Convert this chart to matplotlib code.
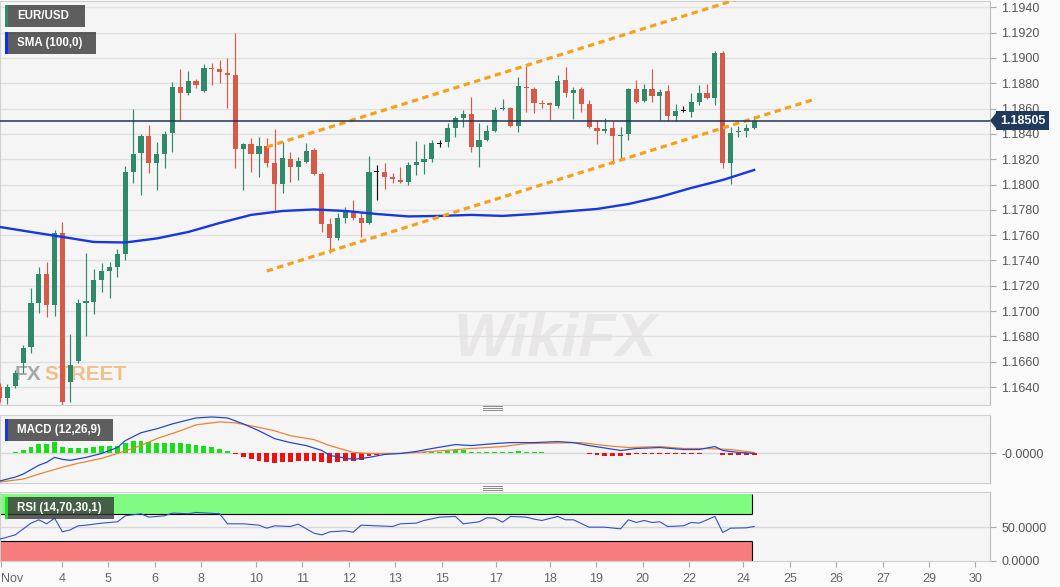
import numpy as np
import matplotlib.pyplot as plt
from matplotlib.patches import Rectangle, Polygon
from matplotlib.lines import Line2D
from matplotlib.transforms import blended_transform_factory

plt.rcParams['font.family'] = ['Liberation Sans', 'DejaVu Sans']

# EUR/USD 4h candles (Nov 3 -> Nov 24)
opens = [1.16401, 1.16314, 1.16409, 1.16590, 1.16717, 1.17064, 1.17293, 1.17049, 1.17617, 1.16440,
         1.16606, 1.17064, 1.17072, 1.17246, 1.17317, 1.17349, 1.17452, 1.18099, 1.18249, 1.18384,
         1.18170, 1.18241, 1.18407, 1.18771, 1.18723, 1.18818, 1.18739, 1.18921, 1.18913, 1.18881,
         1.18866, 1.18281, 1.18320, 1.18241, 1.18305, 1.18170, 1.18004, 1.18202, 1.18139, 1.18178,
         1.18273, 1.18083, 1.17688, 1.17578, 1.17736, 1.17783, 1.17736, 1.17696, 1.18099, 1.18099,
         1.18060, 1.18036, 1.18020, 1.18155, 1.18178, 1.18202, 1.18320, 1.18336, 1.18447, 1.18526,
         1.18557, 1.18297, 1.18352, 1.18423, 1.18597, 1.18605, 1.18463, 1.18771, 1.18755, 1.18645,
         1.18645, 1.18621, 1.18826, 1.18723, 1.18755, 1.18636, 1.18447, 1.18423, 1.18447, 1.18384,
         1.18399, 1.18755, 1.18660, 1.18755, 1.18700, 1.18739, 1.18542, 1.18581, 1.18573, 1.18652,
         1.18723, 1.18684, 1.19039, 1.18170, 1.18415, 1.18423, 1.18447]
highs = [1.16432, 1.16424, 1.16535, 1.16733, 1.17183, 1.17349, 1.17388, 1.17641, 1.17704, 1.16819,
         1.17096, 1.17459, 1.17333, 1.17380, 1.17388, 1.17491, 1.18147, 1.18597, 1.18399, 1.18471,
         1.18336, 1.18423, 1.18810, 1.18913, 1.18897, 1.18834, 1.18952, 1.18960, 1.18984, 1.18999,
         1.19197, 1.18328, 1.18368, 1.18376, 1.18368, 1.18439, 1.18336, 1.18257, 1.18218, 1.18328,
         1.18289, 1.18099, 1.17736, 1.17775, 1.17823, 1.17878, 1.17783, 1.18226, 1.18155, 1.18170,
         1.18091, 1.18139, 1.18178, 1.18344, 1.18320, 1.18352, 1.18352, 1.18486, 1.18542, 1.18589,
         1.18692, 1.18486, 1.18471, 1.18613, 1.18676, 1.18613, 1.18850, 1.18937, 1.18771, 1.18668,
         1.18652, 1.18866, 1.18929, 1.18771, 1.18771, 1.18668, 1.18510, 1.18526, 1.18502, 1.18455,
         1.18763, 1.18826, 1.18794, 1.18913, 1.18755, 1.18787, 1.18636, 1.18621, 1.18723, 1.18787,
         1.18794, 1.19055, 1.19055, 1.18455, 1.18463, 1.18478, 1.18542]
lows = [1.16282, 1.16263, 1.16393, 1.16511, 1.16669, 1.16985, 1.16954, 1.16962, 1.16030, 1.16282,
        1.16590, 1.16804, 1.16977, 1.17151, 1.17104, 1.17270, 1.17404, 1.18012, 1.17918, 1.18091,
        1.17957, 1.18131, 1.18257, 1.18510, 1.18708, 1.18763, 1.18731, 1.18787, 1.18802, 1.18605,
        1.18131, 1.17957, 1.18099, 1.18060, 1.18139, 1.17799, 1.17933, 1.18020, 1.18036, 1.18170,
        1.18076, 1.17625, 1.17459, 1.17562, 1.17696, 1.17720, 1.17586, 1.17688, 1.17878, 1.17965,
        1.18012, 1.18012, 1.17997, 1.18076, 1.18083, 1.18178, 1.18297, 1.18297, 1.18376, 1.18455,
        1.18257, 1.18139, 1.18344, 1.18415, 1.18589, 1.18455, 1.18415, 1.18573, 1.18565, 1.18605,
        1.18510, 1.18605, 1.18692, 1.18518, 1.18573, 1.18447, 1.18320, 1.18407, 1.18162, 1.18194,
        1.18352, 1.18645, 1.18652, 1.18652, 1.18510, 1.18502, 1.18502, 1.18573, 1.18534, 1.18629,
        1.18676, 1.18629, 1.18131, 1.18004, 1.18376, 1.18376, 1.18439]
closes = [1.16314, 1.16401, 1.16511, 1.16709, 1.17064, 1.17293, 1.17049, 1.17617, 1.16282, 1.16575,
          1.17064, 1.17080, 1.17246, 1.17317, 1.17349, 1.17452, 1.18099, 1.18241, 1.18384, 1.18170,
          1.18241, 1.18399, 1.18771, 1.18723, 1.18818, 1.18787, 1.18921, 1.18913, 1.18889, 1.18866,
          1.18281, 1.18320, 1.18241, 1.18305, 1.18170, 1.18004, 1.18210, 1.18139, 1.18186, 1.18265,
          1.18083, 1.17688, 1.17578, 1.17736, 1.17783, 1.17736, 1.17696, 1.18099, 1.18099, 1.18060,
          1.18044, 1.18020, 1.18155, 1.18178, 1.18202, 1.18328, 1.18320, 1.18447, 1.18526, 1.18557,
          1.18297, 1.18352, 1.18423, 1.18589, 1.18605, 1.18463, 1.18779, 1.18763, 1.18645, 1.18636,
          1.18629, 1.18818, 1.18723, 1.18747, 1.18636, 1.18455, 1.18423, 1.18439, 1.18384, 1.18392,
          1.18755, 1.18652, 1.18755, 1.18700, 1.18731, 1.18542, 1.18581, 1.18581, 1.18652, 1.18723,
          1.18684, 1.19039, 1.18170, 1.18407, 1.18423, 1.18447, 1.18505]

sma_idx = [0, 4, 8, 12, 16, 20, 24, 28, 32, 36, 40, 44, 48, 52, 56, 60, 64, 68, 72, 76, 80, 84, 88, 92, 96]
sma_vals = [1.17665, 1.17625, 1.17586, 1.17546, 1.17542, 1.17574, 1.17625, 1.17696, 1.17760, 1.17791,
            1.17803, 1.17791, 1.17767, 1.17748, 1.17752, 1.17760, 1.17752, 1.17767, 1.17787, 1.17807,
            1.17846, 1.17902, 1.17973, 1.18036, 1.18115]

upper_idx, upper_px = [34, 98], [1.18297, 1.19545]
lower_idx, lower_px = [34, 103.8], [1.17317, 1.18676]
last_price = 1.18505
price_ticks = [1.1640, 1.1660, 1.1680, 1.1700, 1.1720, 1.1740, 1.1760, 1.1780,
               1.1800, 1.1820, 1.1840, 1.1860, 1.1880, 1.1900, 1.1920, 1.1940]

# MACD (12,26,9), in pips
macd_idx = [0, 2, 3, 5, 6, 7, 8, 9, 11, 13, 15, 16, 18, 20, 22, 24, 25, 27, 29, 31, 33, 35, 37, 39, 41,
            42, 45, 47, 49, 51, 53, 55, 58, 60, 63, 65, 68, 71, 73, 75, 79, 81, 84, 87, 89, 91, 92, 94, 96]
macd_vals = [-28, -24, -21, -12, -9, -4, -6, -7, -4, 0, 6, 13, 21, 25, 30, 34, 36, 37, 36, 30, 23, 15, 11, 8, 3,
             -2, -6, -4, -1, 0, 2, 5, 9, 8, 10, 11, 11, 12, 11, 8, 3, 5, 6, 4, 4, 7, 3, 1, 0]
sig_idx = [0, 3, 5, 8, 10, 13, 15, 18, 20, 23, 25, 28, 30, 32, 35, 37, 40, 42, 45, 47, 51, 55, 60, 64, 67,
           74, 77, 80, 84, 87, 90, 93, 96]
sig_vals = [-29, -26, -21, -14, -10, -5, 0, 8, 15, 23, 29, 32, 31, 28, 23, 18, 14, 8, 1, 0, 0, 2, 5, 7, 10,
            11, 8, 6, 7, 5, 5, 4, 1]
hist_vals = [0.5, 0.7, 1.0, 3.3, 6.7, 9.3, 9.3, 12, 6.7, 5.3, 6, 6, 6.7, 7.3, 7.3, 8, 11, 12.7, 12.7, 11.7,
             11, 11, 11, 10.3, 10, 8.7, 8, 6.7, 4.3, 2.7, -0.5, -4, -6, -7.3, -8.3, -9.3, -8.7, -8.3, -7.7, -7.3,
             -7.7, -8.7, -10, -8.7, -7.7, -7.3, -6.7, -2.7, -1.7, -1, -0.5, -0.3, 0.5, 1, 1, 1, 1.7, 2.7, 3.3, 3.3,
             1.7, 1, 1.7, 1.7, 1, 1.7, 2.7, 1.5, 1, 1, 0.7, 0.7, 0.7, 0.5, 0.3, -1, -2, -2.5, -3, -2.5,
             -1.5, -0.7, -0.5, -0.3, -0.3, -0.5, -0.5, -0.5, -0.3, -0.3, 0.5, 0.7, -1.5, -2, -2, -2, -2]

# RSI (14,70,30,1)
rsi_idx = [0, 2, 4, 5, 6, 7, 8, 9, 10, 11, 13, 15, 16, 18, 19, 21, 22, 24, 25, 28, 29, 31, 33, 34, 35,
           37, 38, 40, 41, 42, 44, 45, 46, 48, 50, 51, 53, 54, 56, 58, 59, 61, 62, 63, 64, 65, 67, 68, 69,
           71, 72, 73, 75, 77, 79, 80, 81, 82, 83, 84, 85, 87, 88, 89, 91, 92, 93, 95, 96]
rsi_vals = [32, 38.5, 56, 61, 55, 63.5, 43, 46, 52, 53, 56, 58, 67, 70, 65, 67, 71, 70, 72, 70, 55, 55, 53,
            48.5, 52, 51, 54.5, 41, 38.5, 43, 44.5, 42.5, 53, 52, 51, 55, 56, 60, 65, 66, 55, 58, 64, 63.5,
            57.5, 66, 65, 62, 60, 66, 61, 61, 50, 50, 47.5, 61, 57, 60, 57, 58, 51, 52, 57, 56, 66, 42, 48.5,
            49, 51]

day_ticks = [0.19, 7.95, 13.8, 19.8, 25.6, 32.6, 38.5, 44.5, 50.3, 56.3, 63.2, 70.0, 75.9, 81.8, 87.7,
             94.6, 100.6, 106.4, 112.4, 118.3, 124.1]
day_labels = ['Nov', '4', '5', '6', '8', '10', '11', '12', '13', '15', '17', '18', '19', '20', '22',
              '24', '25', '26', '27', '29', '30']

W, H = 1060, 587
GREEN, RED = '#2f8a6b', '#d55a48'
BG = '#f5f5f5'
XL = (0.06, 126.0)


def px_rect(x0, y0, x1, y1):
    return [x0 / W, 1 - y1 / H, (x1 - x0) / W, (y1 - y0) / H]


def tag(fig, x, y, w, h, text, accent):
    fig.add_artist(Rectangle((x / W, 1 - (y + h) / H), w / W, h / H, transform=fig.transFigure,
                             fc='#333333', alpha=0.78, ec='none', zorder=10))
    fig.add_artist(Rectangle((x / W, 1 - (y + h) / H), 3 / W, h / H, transform=fig.transFigure,
                             fc=accent, ec='none', zorder=11))
    fig.text((x + 12) / W, 1 - (y + h / 2) / H, text, color='white', fontsize=8.3, fontweight='bold',
             va='center', ha='left', zorder=12)


def style_axes(a):
    a.set_facecolor(BG)
    a.set_xlim(*XL)
    for s in a.spines.values():
        s.set_color('#d0d0d0')
    a.spines['right'].set_color('#bdbdbd')
    a.yaxis.tick_right()
    a.tick_params(axis='y', color='#aaaaaa', labelcolor='#555555', labelsize=9, length=4, pad=4)


fig = plt.figure(figsize=(W / 100, H / 100), dpi=100)
fig.patch.set_facecolor('#fafafa')

# ---- price panel
ax = fig.add_axes(px_rect(0, 1, 990, 405))
style_axes(ax)
ax.set_ylim(1.16258, 1.19450)
ax.set_yticks(price_ticks)
ax.set_yticklabels(['%.4f' % p for p in price_ticks])
ax.set_xticks([])
ax.grid(axis='y', color='#e1e1e1', lw=1)
ax.set_axisbelow(True)

# faint watermarks
wm = ax.transAxes
ax.text(555 / 990, 0.16, 'WikiFX', fontsize=44, fontweight='bold', fontstyle='italic', color='#e8e6e6',
        ha='center', va='center', transform=wm, zorder=0.5)
ax.text(15 / 990, 1 - 374 / 404, 'FX', fontsize=15, fontweight='bold', color='#a8a8a8', ha='left',
        va='center', transform=wm, zorder=0.6)
ax.text(44 / 990, 1 - 374 / 404, 'STREET', fontsize=15, fontweight='bold', color='#efc08c', ha='left',
        va='center', transform=wm, zorder=0.6)

x = np.arange(len(closes))
o, h, l, c = map(np.array, (opens, highs, lows, closes))
cols = np.where(c > o, GREEN, np.where(c < o, RED, '#111111'))
ax.vlines(x, l, h, colors=cols, lw=0.85, zorder=3)
ax.bar(x, np.maximum(np.abs(c - o), 0.00011), bottom=np.minimum(o, c), width=0.66, color=cols, lw=0, zorder=3)

ax.plot(sma_idx, sma_vals, color='#1538e0', lw=1.7, zorder=4)
ax.plot(upper_idx, upper_px, color='#f7a01c', lw=2.3, ls=(0, (2.0, 1.4)), zorder=4)
ax.plot(lower_idx, lower_px, color='#f7a01c', lw=2.3, ls=(0, (2.0, 1.4)), zorder=4)
ax.axhline(last_price, color='#1e3656', lw=1.1, zorder=5)

bt = blended_transform_factory(ax.transAxes, ax.transData)
ax.add_patch(Polygon([(1.0, last_price), (6 / 990 + 1.0, last_price + 0.0006),
                      (6 / 990 + 1.0, last_price - 0.0006)], closed=True, transform=bt,
                     fc='#1f3a5c', ec='none', clip_on=False, zorder=6))
ax.text(1.0 + 10 / 990, last_price, '%.5f' % last_price, transform=bt, ha='left', va='center',
        color='white', fontsize=9, fontweight='bold', clip_on=False, zorder=7,
        bbox=dict(boxstyle='square,pad=0.3', fc='#1f3a5c', ec='none'))

# ---- MACD panel
axm = fig.add_axes(px_rect(0, 415, 990, 483))
style_axes(axm)
axm.set_ylim(-30, 39)
axm.set_xticks([])
axm.set_yticks([0])
axm.set_yticklabels(['-0.0000'])
axm.axhline(0, color='#d6d6d6', lw=1, zorder=1)
hv = np.array(hist_vals)
axm.bar(np.arange(len(hv)), hv, width=0.62, color=np.where(hv >= 0, '#16e016', '#ee1111'), lw=0, zorder=2)
axm.plot(sig_idx, sig_vals, color='#f08232', lw=0.9, zorder=3)
axm.plot(macd_idx, macd_vals, color='#2447cf', lw=0.9, zorder=3)

# ---- RSI panel
axr = fig.add_axes(px_rect(0, 492, 990, 561))
style_axes(axr)
axr.set_ylim(-0.5, 102.5)
axr.set_yticks([0, 50])
axr.set_yticklabels(['0.0000', '50.0000'])
axr.axhline(50, color='#d8d8d8', lw=1, zorder=1)
x_end = len(closes) - 1 - 0.3
axr.add_patch(Rectangle((XL[0], 70), x_end - XL[0], 30, fc='#80fa80', ec='none', zorder=1))
axr.add_patch(Rectangle((XL[0], 0), x_end - XL[0], 30, fc='#f77c7c', ec='none', zorder=1))
axr.hlines([70, 30], XL[0], x_end, colors='black', lw=0.8, zorder=2)
axr.vlines([x_end, x_end], [70, 0], [100, 30], colors='black', lw=0.8, zorder=2)
axr.vlines([XL[0] + 0.05], [0], [30], colors='black', lw=0.8, zorder=2)
axr.plot(rsi_idx, rsi_vals, color='#3050d0', lw=0.8, zorder=3)
axr.set_xticks(day_ticks)
axr.set_xticklabels(day_labels)
axr.tick_params(axis='x', color='#aaaaaa', labelcolor='#666666', labelsize=9, length=4, pad=5)
axr.get_xticklabels()[0].set_ha('left')

# legend tags
tag(fig, 5, 5, 80, 22, 'EUR/USD', '#2f8a6b')
tag(fig, 5, 32, 91, 22, 'SMA (100,0)', '#0a2cff')
tag(fig, 5, 419, 108, 22, 'MACD (12,26,9)', '#1538e0')
tag(fig, 5, 497, 109, 22, 'RSI (14,70,30,1)', '#22e022')

# panel resize handles
for yy in (408, 488):
    for d in (-2, 0, 2):
        fig.add_artist(Line2D([483 / W, 502 / W], [1 - (yy + d) / H] * 2, color='#8a8a8a', lw=0.7,
                              transform=fig.transFigure))

fig.savefig('out.png', dpi=100, facecolor=fig.get_facecolor())
